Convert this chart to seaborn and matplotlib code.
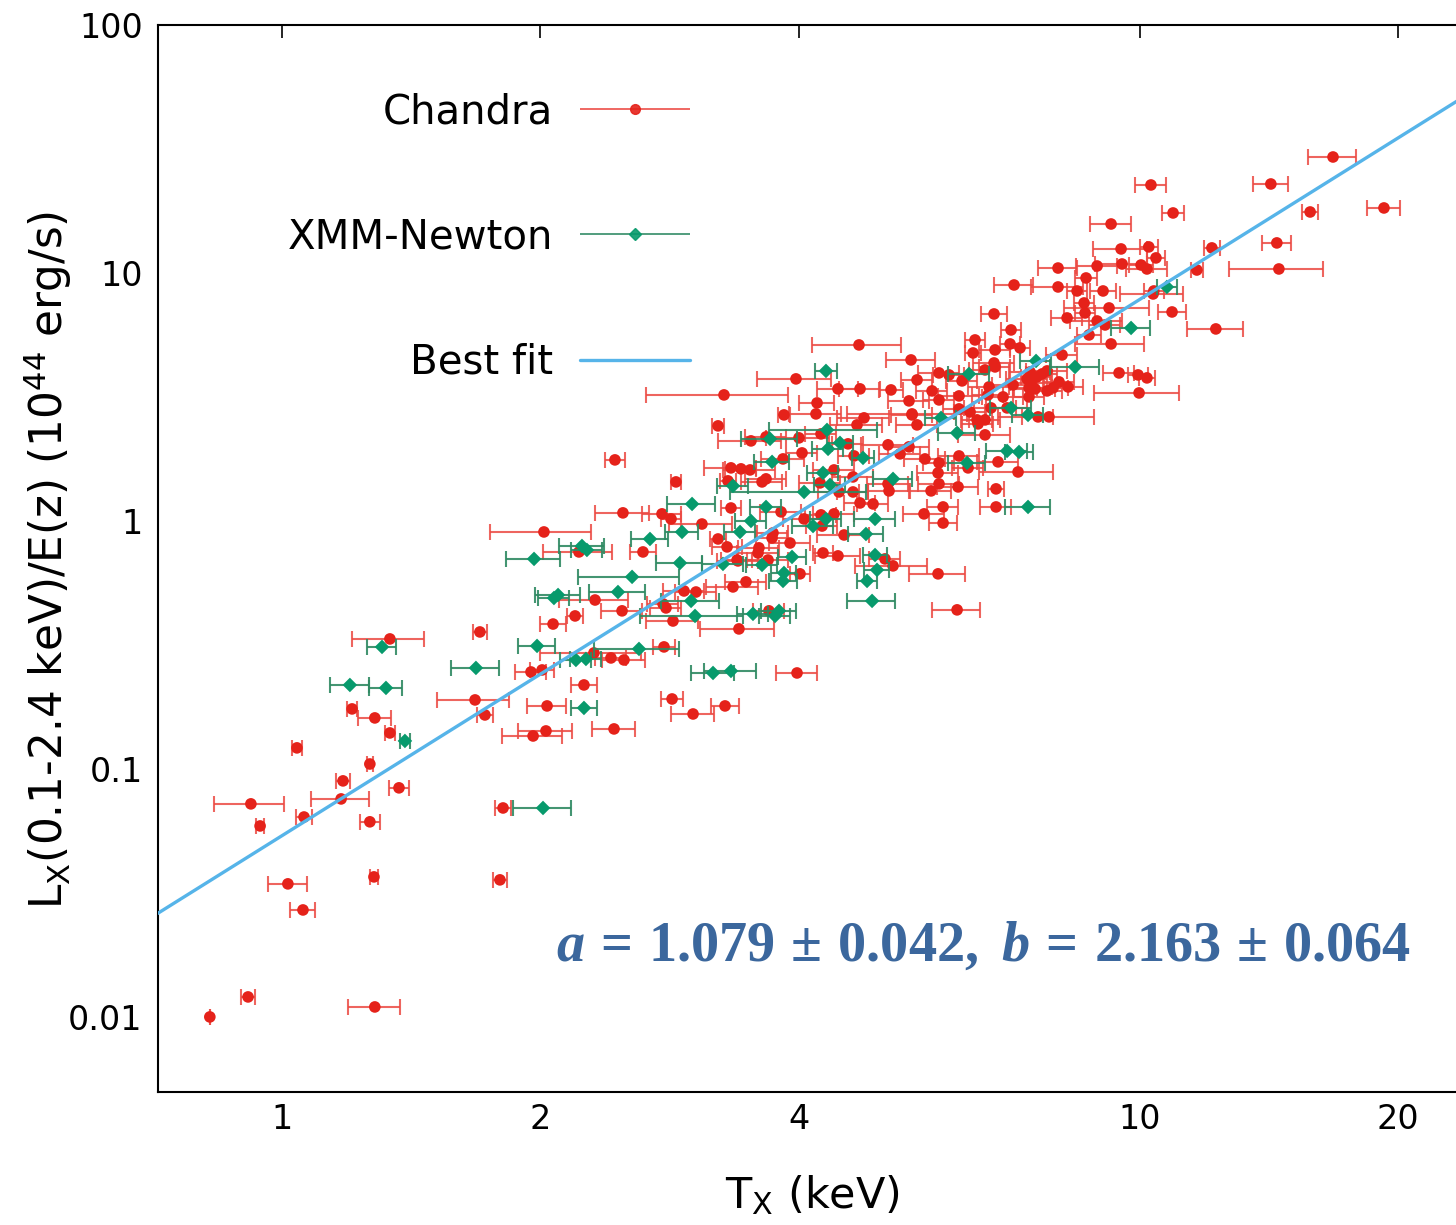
import numpy as np
import pandas as pd
import matplotlib
matplotlib.use("Agg")
import matplotlib.pyplot as plt
from matplotlib.ticker import NullLocator
from matplotlib.container import ErrorbarContainer
from matplotlib.legend_handler import HandlerErrorbar
import seaborn as sns

# ---------------- data ----------------
chandra_T = [
    1.336, 1.701, 1.679, 1.207, 1.283, 1.724, 1.336, 1.041, 1.266, 1.178,
    1.369, 0.920, 1.172, 1.061, 1.266, 0.943, 1.016, 1.280, 1.058, 0.913,
    1.283, 0.824, 1.795, 1.810,
    2.879, 2.497, 2.773, 2.841, 3.087, 2.020, 3.223, 3.302, 2.219, 2.635,
    3.392, 2.942, 3.038, 3.355, 2.317, 2.781, 2.803, 2.491, 2.196, 2.070,
    2.856, 3.409, 2.788, 2.310, 2.418, 2.504, 1.951, 2.010, 2.249, 2.849,
    2.037, 3.284, 3.014, 2.438, 2.031, 1.962,
    4.705, 3.973, 3.275, 4.204, 3.847, 4.192, 3.223, 3.521, 3.666, 4.005,
    4.249, 2.444, 4.038, 3.837, 3.337, 3.428, 3.512, 3.310, 3.627, 3.666,
    3.337, 3.817, 4.060, 4.249,
    6.424, 6.390, 5.410, 5.832, 5.991, 6.599, 6.204, 5.498, 4.447, 4.718,
    5.127, 5.724, 6.154, 5.381, 5.832, 4.769, 5.425, 6.154, 6.339, 6.459,
    4.680, 5.498, 6.599, 4.568, 5.086, 5.381, 4.643, 5.253, 5.617, 5.832,
    6.154, 6.305, 4.400, 4.630, 5.817, 4.238, 5.086, 5.100, 5.832, 6.138,
    5.709, 4.459, 4.630, 4.718, 4.886, 4.400, 5.602, 5.896, 5.896,
    4.261, 3.735, 3.726, 4.520, 3.910, 3.597, 3.588, 4.272, 4.447, 5.045,
    5.155, 3.400, 3.686, 4.016, 5.817, 3.474, 6.122, 3.695, 3.984,
    8.608, 8.631, 6.760, 8.224, 7.076, 8.723, 7.057, 7.249, 6.778, 8.114,
    6.760, 6.778, 7.446, 7.794, 7.690, 7.588, 7.387, 7.466, 7.426, 7.547,
    7.426, 8.049, 7.921, 7.794, 8.246, 7.114, 6.670, 6.926, 6.652, 6.706,
    7.001, 7.608, 7.835, 5.425, 6.476, 6.599, 6.833, 7.210, 6.797, 6.797,
    10.30, 10.93, 9.255, 9.506, 10.24, 12.13, 10.44, 8.027, 8.914, 9.532,
    10.03, 10.19, 11.65, 8.654, 7.133, 8.027, 8.448, 9.058, 10.38, 10.36,
    9.205, 10.90, 8.914, 9.107,
    16.79, 14.21, 15.79, 19.25, 14.44, 14.52, 12.26,
    9.255, 9.455, 9.950, 10.19, 9.977,
]
chandra_L = [
    0.3344, 0.3568, 0.1898, 0.1746, 0.1606, 0.1651, 0.1397, 0.1216, 0.1047, 0.0895,
    0.0839, 0.0723, 0.0757, 0.0640, 0.0612, 0.0589, 0.0344, 0.0367, 0.0270, 0.01204,
    0.01097, 0.0100, 0.0357, 0.0696,
    1.437, 1.078, 1.068, 1.019, 0.972, 0.903, 0.846, 0.786, 0.750, 0.750,
    0.696, 0.522, 0.517, 0.542, 0.480, 0.463, 0.446, 0.434, 0.414, 0.384,
    0.395, 0.367, 0.3105, 0.2936, 0.2803, 0.2751, 0.2461, 0.2507, 0.2181, 0.1915,
    0.1795, 0.1795, 0.1666, 0.1450, 0.1423, 0.1358,
    5.127, 3.740, 3.223, 2.992, 2.677, 2.702, 2.418, 2.103, 2.183, 2.163,
    2.244, 1.763, 1.881, 1.779, 1.637, 1.622, 1.606, 1.451, 1.437, 1.478,
    1.128, 1.088, 1.019, 1.058,
    5.370, 4.759, 4.460, 3.953, 3.881, 4.065, 3.671, 3.705, 3.409, 3.409,
    3.376, 3.345, 3.193, 3.049, 3.077, 2.604, 2.702, 2.831, 2.752, 2.556,
    2.440, 2.440, 2.224, 2.046, 2.027, 1.990, 1.829, 1.864, 1.779, 1.715,
    1.829, 1.637, 1.606, 1.505, 1.562, 1.424, 1.411, 1.322, 1.411, 1.372,
    1.322, 1.309, 1.309, 1.182, 1.171, 1.068, 1.068, 1.139, 0.981,
    0.954, 0.895, 0.854, 0.878, 0.815, 0.779, 0.743, 0.743, 0.723, 0.703,
    0.659, 0.690, 0.696, 0.612, 0.612, 0.568, 0.438, 0.434, 0.2438,
    7.570, 6.899, 6.836, 6.587, 5.892, 5.625, 5.174, 4.987, 4.894, 4.672,
    4.337, 4.180, 3.990, 4.028, 3.917, 3.810, 3.739, 3.603, 3.441, 3.407,
    3.164, 3.637, 3.441, 3.345, 3.472, 3.537, 3.472, 3.164, 3.223, 2.857,
    2.857, 2.628, 2.628, 2.677, 2.463, 2.556, 1.731, 1.576, 1.347, 1.139,
    22.64, 17.46, 15.76, 12.50, 12.74, 12.62, 11.50, 10.47, 10.67, 10.87,
    10.77, 10.38, 10.28, 9.547, 8.946, 8.783, 8.462, 8.462, 8.462, 8.230,
    7.228, 6.963, 6.405, 6.172,
    29.36, 22.85, 17.62, 18.29, 13.22, 10.38, 5.948,
    5.174, 3.953, 3.881, 3.775, 3.283,
]
chandra_Terr = [
    0.128, 0.032, 0.161, 0.016, 0.056, 0.038, 0.018, 0.014, 0.010, 0.022,
    0.037, 0.086, 0.091, 0.023, 0.034, 0.010, 0.053, 0.014, 0.035, 0.017,
    0.089, 0.000, 0.034, 0.040,
    0.039, 0.180, 0.144, 0.077, 0.259, 0.271, 0.071, 0.135, 0.206, 0.092,
    0.139, 0.162, 0.167, 0.231, 0.215, 0.114, 0.115, 0.137, 0.048, 0.072,
    0.197, 0.338, 0.084, 0.310, 0.099, 0.145, 0.080, 0.066, 0.079, 0.085,
    0.106, 0.125, 0.175, 0.141, 0.146, 0.159,
    0.560, 0.393, 0.616, 0.198, 0.062, 0.289, 0.052, 0.296, 0.202, 0.336,
    0.174, 0.066, 0.166, 0.223, 0.230, 0.141, 0.242, 0.073, 0.199, 0.202,
    0.090, 0.210, 0.223, 0.174,
    0.173, 0.141, 0.357, 0.321, 0.246, 0.271, 0.254, 0.225, 0.245, 0.259,
    0.169, 0.235, 0.338, 0.296, 0.239, 0.329, 0.863, 0.252, 0.260, 0.265,
    0.323, 0.302, 0.455, 0.187, 0.351, 0.296, 0.190, 0.289, 0.309, 0.239,
    0.338, 0.259, 0.242, 0.255, 0.320, 0.233, 0.280, 0.281, 0.321, 0.338,
    0.314, 0.245, 0.190, 0.193, 0.200, 0.242, 0.308, 0.242, 0.224,
    0.175, 0.153, 0.153, 0.312, 0.215, 0.198, 0.197, 0.115, 0.271, 0.207,
    0.495, 0.187, 0.203, 0.108, 0.436, 0.191, 0.392, 0.151, 0.219,
    0.232, 0.233, 0.237, 0.337, 0.191, 0.288, 0.191, 0.196, 0.278, 0.333,
    0.372, 0.278, 0.410, 0.429, 0.315, 0.311, 0.406, 0.411, 0.304, 0.415,
    0.304, 0.330, 0.325, 0.320, 0.338, 0.391, 0.367, 0.381, 0.273, 0.463,
    0.385, 0.312, 1.003, 0.298, 0.266, 0.271, 0.376, 0.714, 0.150, 0.279,
    0.422, 0.328, 0.509, 0.684, 0.246, 0.267, 0.251, 0.417, 0.490, 0.658,
    0.331, 0.560, 0.186, 0.260, 0.371, 0.554, 0.228, 0.317, 0.280, 0.870,
    1.040, 0.414, 0.615, 0.373,
    1.075, 0.668, 0.347, 0.847, 0.549, 1.815, 0.920,
    0.861, 0.388, 0.269, 0.224, 1.127,
]

xmm_T = [
    1.308, 1.683, 1.200, 1.322, 1.391, 2.015, 3.006, 3.355, 2.926, 2.685,
    2.237, 2.267, 1.967, 2.910, 3.266, 2.559, 2.464, 2.098, 2.075, 2.998,
    3.030, 1.983, 2.607, 2.201, 2.261, 3.180, 3.337, 2.249,
    4.306, 4.318, 3.706, 4.330, 3.726, 4.060, 4.272, 3.666, 3.521, 4.159,
    6.321, 5.864, 6.122, 4.471, 4.756, 6.288, 5.155, 4.353, 4.306, 4.912,
    3.419, 4.794, 3.931, 4.912, 3.627, 4.938, 3.847, 3.837, 4.808, 4.873,
    3.796, 3.756, 3.540, 7.567, 8.402, 7.076, 7.406, 7.001, 7.229, 7.406,
    10.75, 9.765,
]
xmm_L = [
    0.3105, 0.2555, 0.2181, 0.2122, 0.1297, 0.0696, 1.171, 1.385, 0.903, 0.846,
    0.793, 0.764, 0.703, 0.677, 0.671, 0.595, 0.517, 0.503, 0.489, 0.476,
    0.414, 0.3134, 0.3048, 0.2751, 0.2777, 0.2438, 0.2484, 0.1762,
    4.028, 2.329, 2.143, 1.953, 1.731, 1.309, 1.562, 1.139, 1.000, 0.954,
    3.917, 2.604, 2.265, 2.065, 1.796, 1.715, 1.478, 1.398, 1.019, 1.019,
    0.903, 0.886, 0.716, 0.729, 0.665, 0.635, 0.617, 0.573, 0.573, 0.476,
    0.434, 0.414, 0.422, 4.419, 4.180, 2.857, 2.677, 1.916, 1.898, 1.139,
    8.783, 6.003,
]
xmm_Terr = [
    0.050, 0.108, 0.062, 0.058, 0.019, 0.157, 0.192, 0.138, 0.129, 0.134,
    0.136, 0.093, 0.142, 0.178, 0.180, 0.343, 0.185, 0.128, 0.085, 0.234,
    0.415, 0.099, 0.295, 0.090, 0.093, 0.184, 0.230, 0.079,
    0.129, 0.622, 0.278, 0.178, 0.175, 0.735, 0.175, 0.150, 0.144, 0.229,
    0.348, 0.240, 0.306, 0.157, 0.143, 0.314, 0.268, 0.178, 0.177, 0.270,
    0.140, 0.225, 0.149, 0.162, 0.149, 0.163, 0.127, 0.146, 0.130, 0.312,
    0.178, 0.154, 0.145, 0.310, 0.555, 0.389, 0.304, 0.385, 0.275, 0.452,
    0.290, 0.508,
]

# best-fit relation  L = a (T / 4 keV)^b
fit_a = 1.079
fit_b = 2.163
fit_pivot = 4.0
fit_text = (r"$\mathit{a}\,=\,1.079\,\pm\,0.042,\ \mathit{b}\,=\,2.163\,\pm\,0.064$")

legend_labels = ["Chandra", "XMM-Newton", "Best fit"]
x_ticks = [1, 2, 4, 10, 20]
x_ticklabels = ["1", "2", "4", "10", "20"]
y_ticks = [0.01, 0.1, 1, 10, 100]
y_ticklabels = ["0.01", "0.1", "1", "10", "100"]

# ---------------- style ----------------
sns.set_theme(style="white")
plt.rcParams["font.family"] = ["DejaVu Sans"]
plt.rcParams["mathtext.default"] = "regular"
plt.rcParams["mathtext.rm"] = "Liberation Serif:bold"
plt.rcParams["mathtext.it"] = "Liberation Serif:bold:italic"
plt.rcParams["mathtext.bf"] = "Liberation Serif:bold"

RED = "#e5221a"
RED_BAR = "#ec4a43"
GREEN = "#079a6c"
GREEN_BAR = "#2f8a63"
BLUE = "#56b4e9"

df_c = pd.DataFrame({"T": chandra_T, "L": chandra_L, "err": chandra_Terr})
df_x = pd.DataFrame({"T": xmm_T, "L": xmm_L, "err": xmm_Terr})

fig = plt.figure(figsize=(14.56, 12.25), dpi=100)
fig.patch.set_facecolor("white")
ax = fig.add_axes([158 / 1456, 133 / 1225, 1312 / 1456, 1067 / 1225])
ax.set_facecolor("white")
ax.set_xscale("log")
ax.set_yscale("log")

# Chandra
ax.errorbar(df_c["T"], df_c["L"], xerr=df_c["err"], fmt="none", ecolor=RED_BAR,
            elinewidth=1.5, capsize=6, capthick=1.5, alpha=0.85, zorder=2)
sns.scatterplot(data=df_c, x="T", y="L", marker="o", s=70, color=RED,
                edgecolor="none", linewidth=0, ax=ax, zorder=3, legend=False)
# XMM-Newton
ax.errorbar(df_x["T"], df_x["L"], xerr=df_x["err"], fmt="none", ecolor=GREEN_BAR,
            elinewidth=1.5, capsize=6, capthick=1.5, alpha=0.9, zorder=4)
sns.scatterplot(data=df_x, x="T", y="L", marker="D", s=55, color=GREEN,
                edgecolor="none", linewidth=0, ax=ax, zorder=5, legend=False)

# best fit
T_grid = np.geomspace(0.6, 30, 300)
sns.lineplot(x=T_grid, y=fit_a * (T_grid / fit_pivot) ** fit_b, color=BLUE,
             linewidth=2.4, ax=ax, zorder=6, legend=False)
fit_line = ax.lines[-1]

# legend proxies (empty errorbar containers)
h_c = ax.errorbar([], [], xerr=[], fmt="o", color=RED, ms=7, ecolor=RED_BAR,
                  elinewidth=1.3, capsize=7, capthick=1.3, alpha=0.9)
h_x = ax.errorbar([], [], xerr=[], fmt="D", color=GREEN, ms=6, ecolor=GREEN_BAR,
                  elinewidth=1.3, capsize=7, capthick=1.3, alpha=0.9)

ax.set_xlim(0.717, 24.25)
ax.set_ylim(0.00498, 100)

ax.set_xticks(x_ticks)
ax.set_xticklabels(x_ticklabels)
ax.set_yticks(y_ticks)
ax.set_yticklabels(y_ticklabels)
ax.xaxis.set_minor_locator(NullLocator())
ax.yaxis.set_minor_locator(NullLocator())
ax.tick_params(which="major", direction="in", length=9, width=1.2, color="black",
               top=True, right=True, labelsize=24, labelcolor="black")
ax.tick_params(axis="x", pad=8)
ax.tick_params(axis="y", pad=11)
for sp in ax.spines.values():
    sp.set_color("black")
    sp.set_linewidth(1.5)
    sp.set_visible(True)

ax.set_xlabel(r"T$_X$ (keV)", fontsize=31, color="black")
ax.set_ylabel(r"L$_X$(0.1-2.4 keV)/E(z) (10$^{44}$ erg/s)", fontsize=31.5, color="black")
ax.xaxis.set_label_coords(0.4985, -0.076)
ax.yaxis.set_label_coords(-0.064, 0.4985)

leg = ax.legend([h_c, h_x, fit_line], legend_labels,
                loc="upper right", bbox_to_anchor=(690 / 1456, 1 - 92 / 1225),
                bbox_transform=fig.transFigure, frameon=False, markerfirst=False,
                fontsize=29, handlelength=2.73, handletextpad=0.66,
                labelspacing=2.12, borderpad=0, borderaxespad=0,
                handler_map={ErrorbarContainer: HandlerErrorbar(xerr_size=1.36)})
for t in leg.get_texts():
    t.set_color("black")

fig.text(556 / 1456, 1 - 961 / 1225, fit_text, fontsize=40.5, color="#3b679d",
         ha="left", va="baseline", fontfamily="Liberation Serif",
         fontweight="bold", math_fontfamily="custom")

fig.savefig("out.png", dpi=100, facecolor="white")
